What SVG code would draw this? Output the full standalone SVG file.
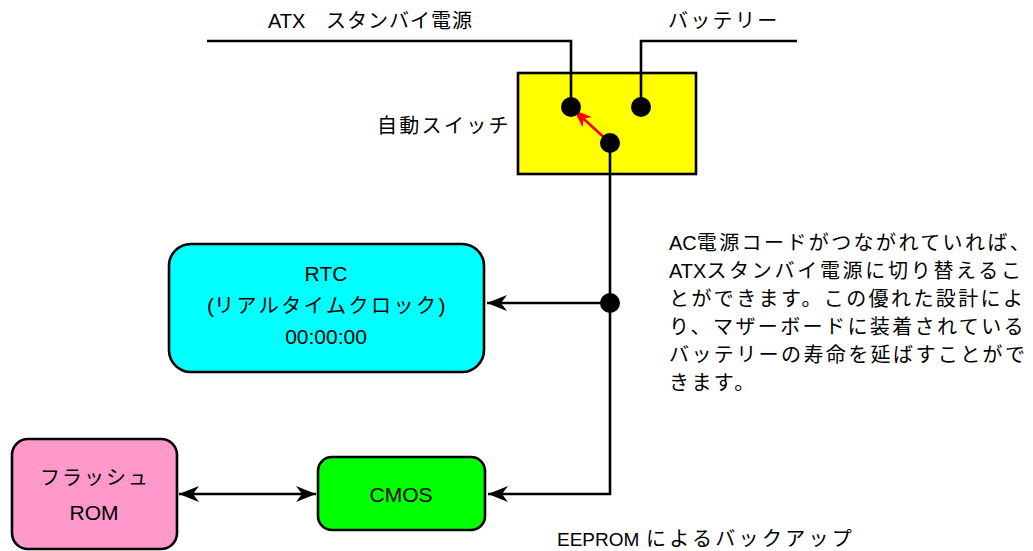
<svg xmlns="http://www.w3.org/2000/svg" width="1033" height="551" viewBox="0 0 1033 551">
  <style>
    text { font-family: "Liberation Sans", "Noto Sans CJK JP", sans-serif; fill: #000; }
    .lb { font-size: 20px; }
    .lb19 { font-size: 19px; }
    .bx { font-size: 21px; }
    .cj { font-family: "Noto Sans CJK JP", sans-serif; font-size: 20px; }
    .wire { fill: none; stroke: #000; stroke-width: 2.6; }
    .box { stroke: #000; stroke-width: 2.6; }
  </style>
  <defs>
    <marker id="arr" viewBox="0 0 20 16" refX="20" refY="8" markerWidth="20" markerHeight="16" markerUnits="userSpaceOnUse" orient="auto-start-reverse">
      <path d="M0,0 L20,8 L0,16 L6,8 z" fill="#000"/>
    </marker>
    <marker id="rarr" viewBox="0 0 18 14" refX="18" refY="7" markerWidth="18" markerHeight="14" markerUnits="userSpaceOnUse" orient="auto">
      <path d="M0,0 L18,7 L0,14 L5,7 z" fill="#ff0000"/>
    </marker>
  </defs>

  <g id="switch">
    <rect x="518" y="73" width="178" height="101" fill="#ffff00" class="box"/>
  </g>

  <g id="connectors">
    <path class="wire" d="M207,41 H571 V107"/>
    <path class="wire" d="M797,41 H641 V107"/>
    <path class="wire" d="M610,143 V494 H488" marker-end="url(#arr)"/>
    <path class="wire" d="M610,303 H487" marker-end="url(#arr)"/>
    <path class="wire" d="M179,494 H316" marker-start="url(#arr)" marker-end="url(#arr)"/>
    <line x1="609" y1="142" x2="574" y2="110" stroke="#ff0000" stroke-width="2.6" marker-end="url(#rarr)"/>
    <circle cx="571" cy="107" r="10" fill="#000"/>
    <circle cx="641" cy="107" r="10" fill="#000"/>
    <circle cx="610" cy="143" r="10" fill="#000"/>
    <circle cx="610" cy="303" r="10" fill="#000"/>
  </g>

  <g id="rtc">
    <rect x="169" y="244" width="315" height="128" rx="22" fill="#00ffff" class="box"/>
    <text class="bx" x="326" y="281" text-anchor="middle">RTC</text>
    <text class="bx" x="207" y="313">(<tspan class="cj" letter-spacing="2.5">リアルタイムクロック</tspan>)</text>
    <text class="bx" x="326" y="344" text-anchor="middle">00:00:00</text>
  </g>

  <g id="flash">
    <rect x="12" y="439" width="165" height="110" rx="16" fill="#ff99cc" class="box"/>
    <text class="cj" x="40" y="485" letter-spacing="2">フラッシュ</text>
    <text class="bx" x="94" y="520" text-anchor="middle">ROM</text>
  </g>

  <g id="cmos">
    <rect x="318" y="457" width="167" height="73" rx="14" fill="#00ff00" class="box"/>
    <text class="bx" x="401" y="502" text-anchor="middle">CMOS</text>
  </g>

  <g id="labels">
    <text class="lb" x="268" y="28">ATX <tspan class="cj" x="326" letter-spacing="1">スタンバイ電源</tspan></text>
    <text class="cj" x="668" y="28" letter-spacing="2.3">バッテリー</text>
    <text class="cj" x="377" y="133" letter-spacing="2.3">自動スイッチ</text>
    <text class="lb19" x="557" y="546">EEPROM <tspan class="cj" x="646" letter-spacing="3.3">によるバックアップ</tspan></text>
  </g>

  <g id="note">
    <text class="lb" x="669" y="250">AC<tspan class="cj" letter-spacing="2.4">電源コードがつながれていれば、</tspan></text>
    <text class="lb" x="669" y="278">ATX<tspan class="cj" letter-spacing="2.7">スタンバイ電源に切り替えるこ</tspan></text>
    <text class="cj" x="669" y="306" letter-spacing="2.4">とができます。この優れた設計によ</text>
    <text class="cj" x="669" y="334" letter-spacing="2.4">り、マザーボードに装着されている</text>
    <text class="cj" x="669" y="362" letter-spacing="2.4">バッテリーの寿命を延ばすことがで</text>
    <text class="cj" x="669" y="390" letter-spacing="2.4">きます。</text>
  </g>
</svg>
